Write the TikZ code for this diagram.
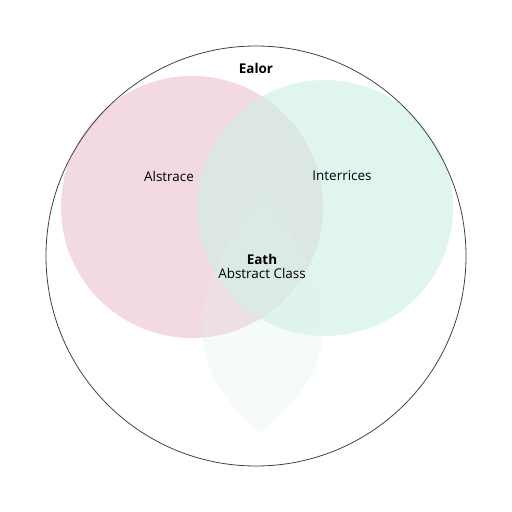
\documentclass[tikz,border=0pt]{standalone}
\usepackage{fontspec}
\setmainfont{Open Sans}
\usetikzlibrary{positioning}

\definecolor{pinkset}{RGB}{236,196,207}
\definecolor{tealset}{RGB}{208,239,232}
\definecolor{mintset}{RGB}{222,243,239}

\begin{document}
\begin{tikzpicture}[
  x=1bp, y=-1bp,
  set/.style={circle, inner sep=0pt, minimum size=#1},
  lab/.style={font=\fontsize{13.5}{15}\selectfont, inner sep=0pt, align=center},
  head/.style={font=\fontsize{13.5}{15}\selectfont\bfseries, inner sep=0pt}
]
\useasboundingbox (0,0) rectangle (512,512);

\node[set=262bp, fill=pinkset, fill opacity=0.65] (abstr) at (192,207) {};
\node[set=256bp, fill=tealset, fill opacity=0.65] (iface) at (325,208) {};
\path[fill=mintset, fill opacity=0.3]
  (262,198) .. controls (218,248) and (196,300) .. (203,345)
  .. controls (211,388) and (240,414) .. (260,433)
  .. controls (284,411) and (315,386) .. (322,342)
  .. controls (329,296) and (306,246) .. (262,198);
\node[set=420bp, draw=black!75, line width=0.8pt] (outer) at (256,256) {};

\node[head] (ealor) at (256,68) {Ealor};
\node[lab] (alst) at (169,176) {Alstrace};
\node[lab] (inter) at (342,176) {Interrices};
\node[head] (eath) at (262,259) {Eath};
\node[lab, below=4bp of eath] (abcl) {Abstract Class};
\end{tikzpicture}
\end{document}
